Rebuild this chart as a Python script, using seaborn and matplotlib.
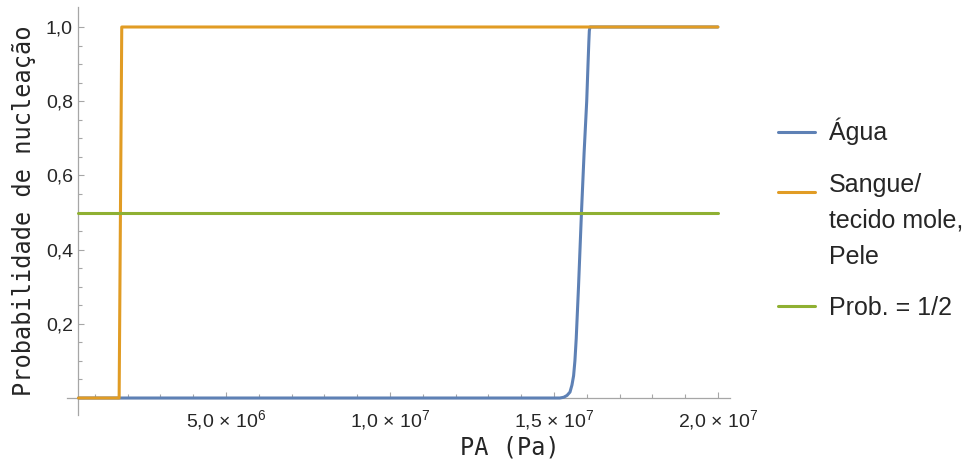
import numpy as np
import matplotlib
matplotlib.use("Agg")
import matplotlib.pyplot as plt
import seaborn as sns
from matplotlib.legend_handler import HandlerLine2D
from matplotlib.lines import Line2D
from matplotlib.ticker import FixedLocator, FixedFormatter

# Nucleation probability versus acoustic pressure (Pa)
agua_pa = [0.5e6, 15.0e6, 15.18e6, 15.30e6, 15.40e6, 15.49e6, 15.55e6, 15.60e6,
           15.64e6, 15.68e6, 15.75e6, 15.84e6, 15.92e6, 16.00e6, 16.04e6,
           16.065e6, 16.08e6, 16.10e6, 20.0e6]
agua_prob = [0.0, 0.0, 0.0, 0.002, 0.007, 0.016, 0.035, 0.06,
             0.10, 0.16, 0.30, 0.50, 0.66, 0.80, 0.90,
             0.96, 0.99, 1.0, 1.0]

sangue_pa = [0.5e6, 1.74e6, 1.82e6, 20.0e6]
sangue_prob = [0.0, 0.0, 1.0, 1.0]

metade_pa = [0.5e6, 20.0e6]
metade_prob = [0.5, 0.5]

serie_labels = ["Água", "Sangue/\ntecido mole,\nPele", "Prob. = 1/2"]
serie_colors = ["#5E81B5", "#E19C24", "#8FB032"]

x_major = [5e6, 1e7, 1.5e7, 2e7]
x_major_mant = ["5,0", "1,0", "1,5", "2,0"]
x_major_exp = [6, 7, 7, 7]
x_minor = [k * 1e6 for k in range(1, 21)]

y_major = [0.0, 0.2, 0.4, 0.6, 0.8, 1.0]
y_major_labels = ["", "0,2", "0,4", "0,6", "0,8", "1,0"]
y_minor = [k * 0.05 for k in range(-1, 21)]

x_label = "PA (Pa)"
y_label = "Probabilidade de nucleação"

sns.set_theme(style="white")
plt.rcParams["font.family"] = ["Liberation Sans", "DejaVu Sans"]
plt.rcParams["axes.unicode_minus"] = False

axis_grey = "#a6a6a6"
text_col = "#262626"

fig = plt.figure(figsize=(9.71, 4.65), dpi=100)
ax = fig.add_axes([67 / 971, 50 / 465, 663 / 971, 408 / 465])

series = [(agua_pa, agua_prob), (sangue_pa, sangue_prob), (metade_pa, metade_prob)]
for (xs, ys), lab, col in zip(series, serie_labels, serie_colors):
    sns.lineplot(x=xs, y=ys, color=col, linewidth=2.2, estimator=None,
                 sort=False, ax=ax, legend=False)

ax.set_xlim(0.15e6, 20.37e6)
ax.set_ylim(-0.0458, 1.0539)

# Axes cross at (5e5, 0)
for side in ("top", "right"):
    ax.spines[side].set_visible(False)
ax.spines["left"].set_position(("data", 0.5e6))
ax.spines["bottom"].set_position(("data", 0.0))
for side in ("left", "bottom"):
    ax.spines[side].set_color(axis_grey)
    ax.spines[side].set_linewidth(0.9)
    ax.spines[side].set_zorder(0.5)

ax.xaxis.set_major_locator(FixedLocator(x_major))
ax.xaxis.set_major_formatter(FixedFormatter(
    [f"{m} × $\\mathregular{{10^{{{e}}}}}$" for m, e in zip(x_major_mant, x_major_exp)]))
ax.xaxis.set_minor_locator(FixedLocator(x_minor))
ax.yaxis.set_major_locator(FixedLocator(y_major))
ax.yaxis.set_major_formatter(FixedFormatter(y_major_labels))
ax.yaxis.set_minor_locator(FixedLocator(y_minor))

ax.tick_params(axis="both", which="major", direction="in", length=4.5, width=0.8,
               color=axis_grey, labelsize=14, labelcolor=text_col)
ax.tick_params(axis="both", which="minor", direction="in", length=2.6, width=0.8,
               color=axis_grey)
ax.tick_params(axis="x", which="major", pad=7)
ax.tick_params(axis="y", which="major", pad=4)
ax.tick_params(left=True, bottom=True, which="both")

mono = ["DejaVu Sans Mono", "Noto Sans CJK JP"]
ax.set_xlabel(x_label, family=mono, fontsize=17, color=text_col)
ax.set_ylabel(y_label, family=mono, fontsize=17, color=text_col)
ax.xaxis.set_label_coords(0.668, -0.05)
ax.yaxis.set_label_coords(-0.047, 0.5)


class FirstLineHandler(HandlerLine2D):
    """Place the legend key level with the first line of a multi-line label."""

    def __init__(self, shift, **kw):
        super().__init__(**kw)
        self.shift = shift

    def create_artists(self, legend, orig_handle, xdescent, ydescent, width,
                       height, fontsize, trans):
        arts = super().create_artists(legend, orig_handle, xdescent, ydescent,
                                      width, height, fontsize, trans)
        for a in arts:
            if isinstance(a, Line2D):
                a.set_ydata(np.asarray(a.get_ydata(), dtype=float) + self.shift)
        return arts


leg_size = 18
line_gap = 1.62
handles = list(ax.lines[:3])
leg = fig.legend(handles, serie_labels, loc="center left",
                 bbox_to_anchor=(0.801, 0.529), frameon=False, fontsize=leg_size,
                 handlelength=1.5, handletextpad=0.55, labelspacing=1.1,
                 borderpad=0, borderaxespad=0, labelcolor=text_col,
                 handler_map={handles[1]: FirstLineHandler(
                     shift=line_gap * 0.729 * leg_size)})
for t in leg.get_texts():
    t.set_linespacing(line_gap)
for h in leg.legend_handles:
    h.set_linewidth(2.2)

fig.savefig("out.png", dpi=100)
